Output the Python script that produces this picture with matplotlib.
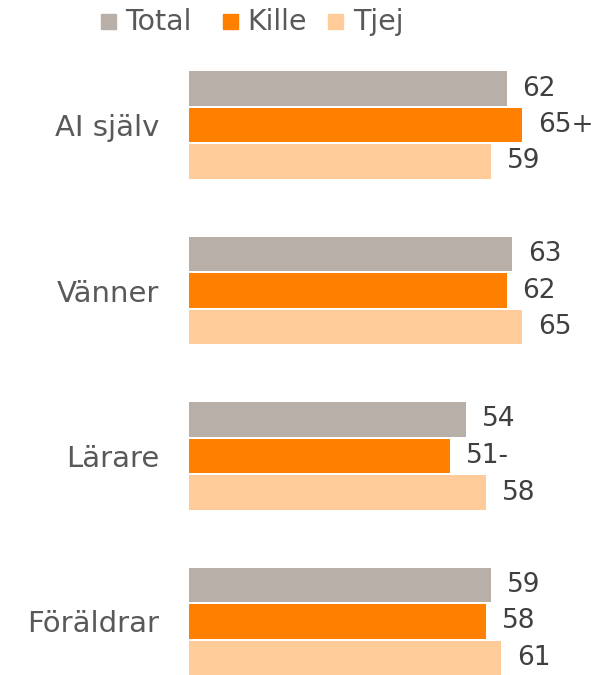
import matplotlib
matplotlib.use("Agg")
import matplotlib.pyplot as plt
from matplotlib.patches import Rectangle
import numpy as np

categories = ["AI själv", "Vänner", "Lärare", "Föräldrar"]
series_names = ["Total", "Kille", "Tjej"]
total = [62, 63, 54, 59]
kille = [65, 62, 51, 58]
tjej = [59, 65, 58, 61]
kille_labels = ["65+", "62", "51-", "58"]
total_labels = ["62", "63", "54", "59"]
tjej_labels = ["59", "65", "58", "61"]

colors = ["#B8AFA9", "#FF7F00", "#FFCC99"]
text_color = "#595959"

W, H = 595, 675
dpi = 100
fig = plt.figure(figsize=(W / dpi, H / dpi), dpi=dpi)

x0 = 188.5
scale = 5.13  # px per unit
ax = fig.add_axes([x0 / W, 0, 1 - x0 / W, 1])
ax.set_xlim(0, (W - x0) / scale)
group_px = 165.5
first_center = 125
ax.set_ylim(3 + (H - 621.5) / group_px, -first_center / group_px)

y = np.arange(len(categories))
pitch = 36.5 / group_px
height = 34.5 / group_px
data = [total, kille, tjej]
labels = [total_labels, kille_labels, tjej_labels]
for i, (vals, labs, c) in enumerate(zip(data, labels, colors)):
    pos = y + (i - 1) * pitch
    ax.barh(pos, vals, height=height, color=c, edgecolor="none")
    for p, v, lab in zip(pos, vals, labs):
        ax.annotate(lab, xy=(v, p), xytext=(16, 0), textcoords="offset pixels",
                    ha="left", va="center", fontsize=19, color="#404040")

ax.set_yticks(y)
ax.set_yticklabels(categories, fontsize=21, color=text_color)
ax.tick_params(axis="y", length=0, pad=21)
ax.set_xticks([])
for s in ax.spines.values():
    s.set_visible(False)
ax.patch.set_alpha(0)

# legend
leg = [(101, 125), (223, 247), (328, 353)]
for (sx, tx), name, c in zip(leg, series_names, colors):
    fig.patches.append(Rectangle((sx / W, 1 - 29 / H), 15 / W, 15 / H,
                                 transform=fig.transFigure, color=c, figure=fig))
    fig.text(tx / W, 1 - 22 / H, name, ha="left", va="center",
             fontsize=20.5, color=text_color)

fig.savefig("out.png", dpi=dpi)
